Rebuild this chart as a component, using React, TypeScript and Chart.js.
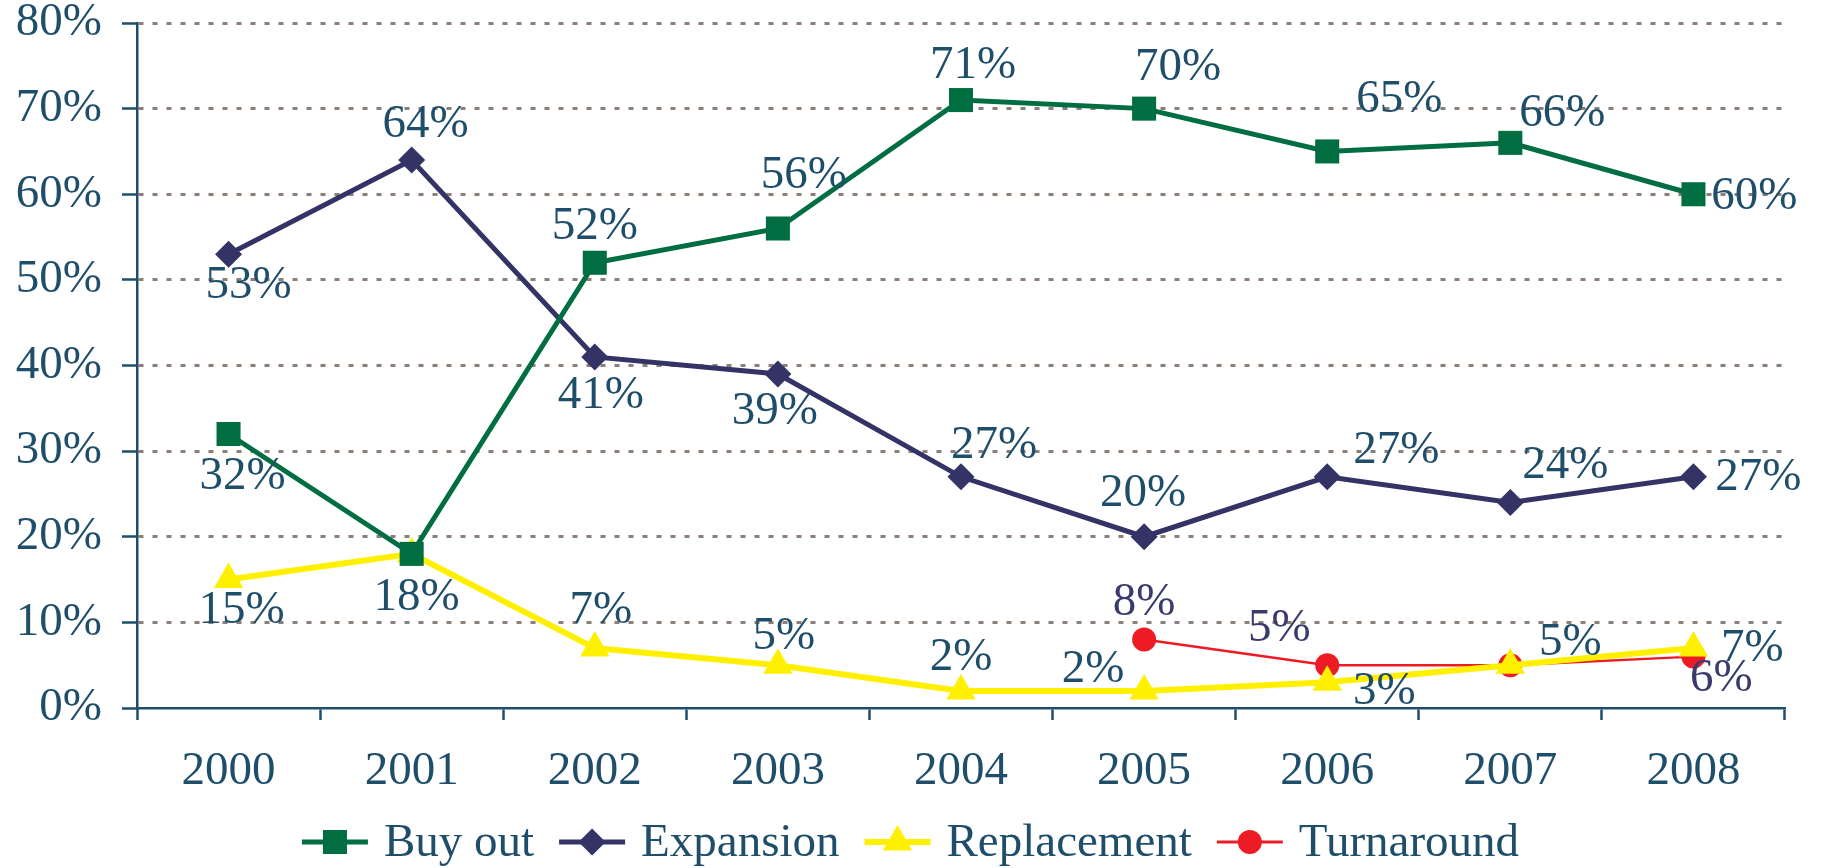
import React, { useEffect, useRef } from "react";
import { Chart, registerables } from "chart.js";

Chart.register(...registerables);

const years = ["2000", "2001", "2002", "2003", "2004", "2005", "2006", "2007", "2008"];
const buyOut = [32, 18, 52, 56, 71, 70, 65, 66, 60];
const expansion = [53, 64, 41, 39, 27, 20, 27, 24, 27];
const replacement = [15, 18, 7, 5, 2, 2, 3, 5, 7];
const turnaround = [null, null, null, null, null, 8, 5, 5, 6];
const yTicks = [0, 10, 20, 30, 40, 50, 60, 70, 80];

// label offsets (px) relative to each point; null = no label
const buyOutLabelOffsets = [[14, 43], null, [0, -36], [26, -53], [12, -34], [34, -41], [72, -52], [52, -29], [61, 2]];
const expansionLabelOffsets = [[20, 31], [14, -35], [6, 39], [-3, 38], [33, -31], [-1, -43], [69, -26], [55, -37], [65, 1]];
const replacementLabelOffsets = [[13, 31], [5, 44], [6, -37], [6, -29], [0, -33], [-51, -21], [57, 9], [60, -23], [59, 1]];
const turnaroundLabelOffsets = [null, null, null, null, null, [0, -37], [-48, -37], null, [28, 22]];

const FONT = "'Liberation Serif', 'Times New Roman', serif";
const FONT_SIZE = 47;
const TEXT = "#1F4E6B";
const PURPLE_TEXT = "#3A3A6C";
const GREEN = "#006E41";
const NAVY = "#333366";
const YELLOW = "#FFF000";
const RED = "#ED1C24";

const labelPlugin = {
  id: "valueLabels",
  afterDatasetsDraw(chart: any) {
    const ctx = chart.ctx;
    ctx.save();
    ctx.font = `${FONT_SIZE}px ${FONT}`;
    ctx.textAlign = "center";
    ctx.textBaseline = "middle";
    chart.data.datasets.forEach((ds: any, di: number) => {
      const meta = chart.getDatasetMeta(di);
      const offs = ds.labelOffsets;
      meta.data.forEach((pt: any, i: number) => {
        const v = ds.data[i];
        const o = offs[i];
        if (v == null || !o) return;
        ctx.fillStyle = ds.labelColor;
        ctx.fillText(`${v}%`, pt.x + o[0], pt.y + o[1]);
      });
    });
    ctx.restore();
  },
};

function drawMarker(ctx: CanvasRenderingContext2D, style: string, r: number, x: number, y: number) {
  ctx.beginPath();
  if (style === "rect") {
    const s = Math.SQRT1_2 * r;
    ctx.rect(x - s, y - s, 2 * s, 2 * s);
  } else if (style === "rectRot") {
    ctx.moveTo(x - r, y);
    ctx.lineTo(x, y - r);
    ctx.lineTo(x + r, y);
    ctx.lineTo(x, y + r);
    ctx.closePath();
  } else if (style === "triangle") {
    ctx.moveTo(x, y - r);
    ctx.lineTo(x + r * Math.sin(Math.PI / 3), y + r * 0.5);
    ctx.lineTo(x - r * Math.sin(Math.PI / 3), y + r * 0.5);
    ctx.closePath();
  } else {
    ctx.arc(x, y, r, 0, Math.PI * 2);
  }
  ctx.fill();
}

const legendPlugin = {
  id: "customLegend",
  afterDraw(chart: any) {
    const ctx = chart.ctx;
    ctx.save();
    ctx.font = `${FONT_SIZE}px ${FONT}`;
    ctx.textBaseline = "middle";
    const lineLen = 66;
    const gapLineText = 16;
    const gapItems = 25;
    const items = chart.data.datasets.map((ds: any) => ({
      ds,
      w: lineLen + gapLineText + ctx.measureText(ds.label).width,
    }));
    const total = items.reduce((a: number, it: any) => a + it.w, 0) + gapItems * (items.length - 1);
    let x = (chart.width - total) / 2;
    const y = 842;
    items.forEach((it: any) => {
      const ds = it.ds;
      ctx.strokeStyle = ds.borderColor;
      ctx.lineWidth = Math.max(ds.borderWidth, 3);
      ctx.beginPath();
      ctx.moveTo(x, y);
      ctx.lineTo(x + lineLen, y);
      ctx.stroke();
      ctx.fillStyle = ds.pointBackgroundColor;
      drawMarker(ctx, ds.pointStyle, ds.pointRadius, x + lineLen / 2, y);
      ctx.fillStyle = TEXT;
      ctx.fillText(ds.label, x + lineLen + gapLineText, y + 2);
      x += it.w + gapItems;
    });
    ctx.restore();
  },
};

export default function App() {
  const ref = useRef<HTMLCanvasElement | null>(null);
  useEffect(() => {
    if (!ref.current) return;
    const chart = new Chart(ref.current, {
      type: "line",
      data: {
        labels: years,
        datasets: [
          {
            label: "Buy out",
            data: buyOut,
            borderColor: GREEN,
            backgroundColor: GREEN,
            pointBackgroundColor: GREEN,
            pointBorderColor: GREEN,
            borderWidth: 5,
            pointStyle: "rect",
            pointRadius: 17,
            pointHoverRadius: 17,
            pointBorderWidth: 0,
            labelOffsets: buyOutLabelOffsets,
            labelColor: TEXT,
          } as any,
          {
            label: "Expansion",
            data: expansion,
            borderColor: NAVY,
            backgroundColor: NAVY,
            pointBackgroundColor: NAVY,
            pointBorderColor: NAVY,
            borderWidth: 5,
            pointStyle: "rectRot",
            pointRadius: 13.5,
            pointHoverRadius: 13.5,
            pointBorderWidth: 0,
            labelOffsets: expansionLabelOffsets,
            labelColor: TEXT,
          } as any,
          {
            label: "Replacement",
            data: replacement,
            borderColor: YELLOW,
            backgroundColor: YELLOW,
            pointBackgroundColor: YELLOW,
            pointBorderColor: YELLOW,
            borderWidth: 6,
            pointStyle: "triangle",
            pointRadius: 17,
            pointHoverRadius: 17,
            pointBorderWidth: 0,
            labelOffsets: replacementLabelOffsets,
            labelColor: TEXT,
          } as any,
          {
            label: "Turnaround",
            data: turnaround,
            borderColor: RED,
            backgroundColor: RED,
            pointBackgroundColor: RED,
            pointBorderColor: RED,
            borderWidth: 2.5,
            pointStyle: "circle",
            pointRadius: 12,
            pointHoverRadius: 12,
            pointBorderWidth: 0,
            labelOffsets: turnaroundLabelOffsets,
            labelColor: PURPLE_TEXT,
          } as any,
        ],
      },
      options: {
        animation: false,
        responsive: false,
        maintainAspectRatio: false,
        layout: { padding: { left: 0, right: 36, top: 0, bottom: 0 } },
        plugins: {
          legend: { display: false },
          tooltip: { enabled: false },
        },
        elements: { line: { tension: 0 } },
        scales: {
          x: {
            offset: true,
            grid: {
              offset: true,
              drawOnChartArea: false,
              drawTicks: true,
              tickLength: 12,
              tickColor: TEXT,
              tickWidth: 2.5,
              color: TEXT,
            },
            border: { display: true, color: TEXT, width: 2.5 },
            ticks: {
              color: TEXT,
              font: { family: FONT, size: FONT_SIZE, lineHeight: 1 },
              padding: 28,
              maxRotation: 0,
            },
            afterFit: (s: any) => {
              s.height = 160;
            },
          },
          y: {
            min: 0,
            max: 80,
            afterBuildTicks: (s: any) => {
              s.ticks = yTicks.map((v) => ({ value: v }));
            },
            grid: {
              color: (c: any) => (c.tick && c.tick.value === 0 ? "rgba(0,0,0,0)" : "#8C7F78"),
              lineWidth: 3,
              drawTicks: true,
              tickLength: 15,
              tickColor: TEXT,
              tickWidth: 2.5,
              tickBorderDash: [],
            },
            border: { display: true, color: TEXT, width: 2.5, dash: [5, 9] },
            ticks: {
              color: TEXT,
              font: { family: FONT, size: FONT_SIZE, lineHeight: 1 },
              padding: 20,
              callback: (v: any) => `${v}%`,
            },
            afterFit: (s: any) => {
              s.width = 137;
              s.paddingTop = 23;
              s.paddingBottom = 0;
            },
          },
        },
      } as any,
      plugins: [labelPlugin, legendPlugin],
    });
    return () => chart.destroy();
  }, []);
  return (
    <div style={{ position: "fixed", left: 0, top: 0, width: 1821, height: 868, background: "#fff" }}>
      <canvas ref={ref} width={1821} height={868} style={{ width: 1821, height: 868 }} />
    </div>
  );
}
